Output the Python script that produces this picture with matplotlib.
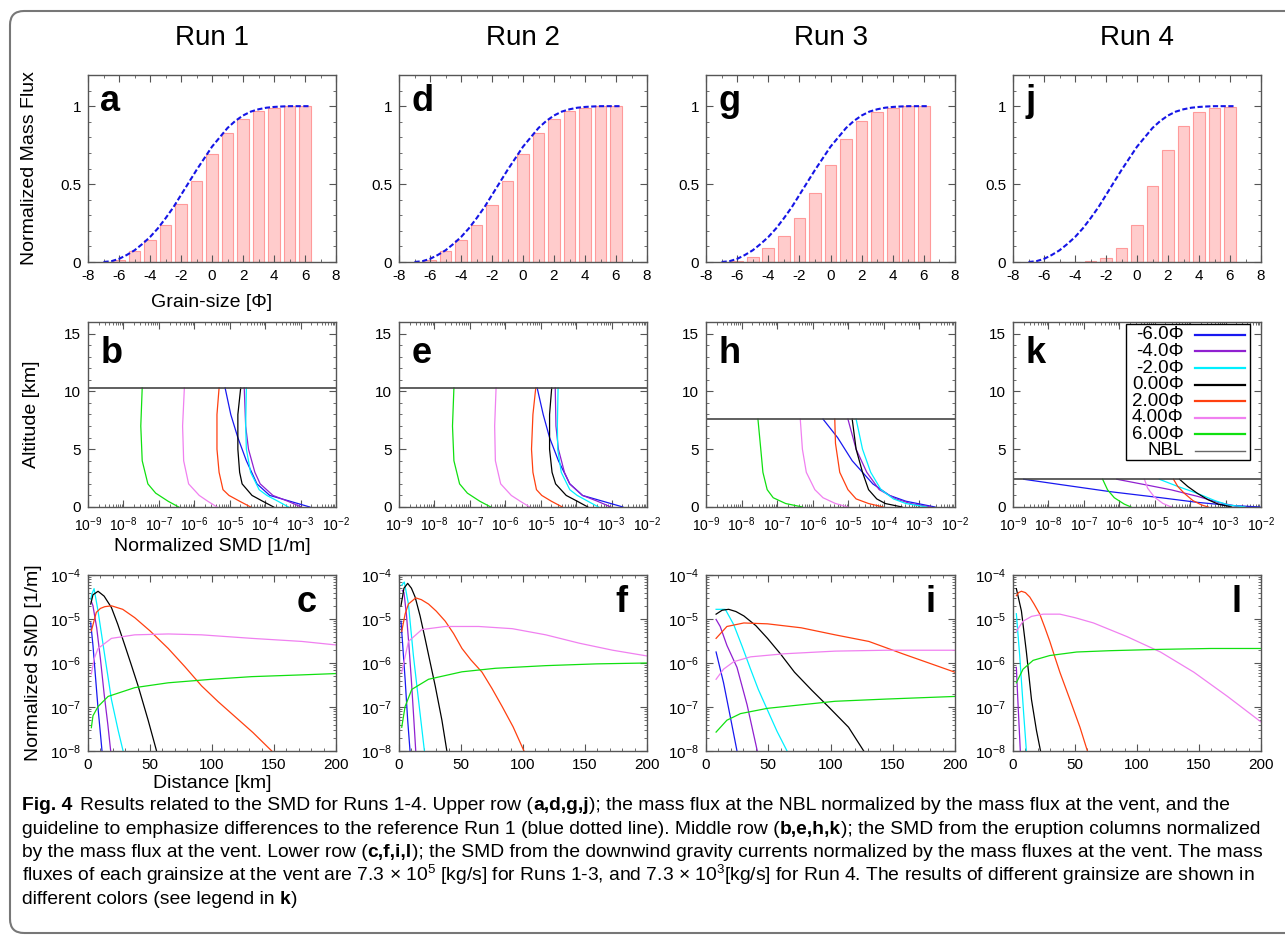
import numpy as np
import matplotlib
matplotlib.use('Agg')
import matplotlib.pyplot as plt
from matplotlib import font_manager
from matplotlib.patches import FancyBboxPatch, Rectangle
from matplotlib.transforms import IdentityTransform
from matplotlib.ticker import MultipleLocator, LogLocator, NullFormatter

plt.rcParams['font.family'] = ['Liberation Sans', 'DejaVu Sans']
plt.rcParams['axes.unicode_minus'] = False
plt.rcParams['mathtext.default'] = 'regular'

# ---------------- data ----------------
run_titles = ['Run 1', 'Run 2', 'Run 3', 'Run 4']
grain_labels = ['-6.0Φ', '-4.0Φ', '-2.0Φ', '0.00Φ', '2.00Φ', '4.00Φ', '6.00Φ']
grain_colors = ['#1818f0', '#9020d0', '#00f0ff', '#000000', '#ff4010', '#f080f0', '#10e010']
top_letters = ['a', 'd', 'g', 'j']
mid_letters = ['b', 'e', 'h', 'k']
bot_letters = ['c', 'f', 'i', 'l']

# upper row: normalized mass flux at NBL (cumulative, per grain size)
phi = [-6, -5, -4, -3, -2, -1, 0, 1, 2, 3, 4, 5, 6]
flux_run1 = [0.015, 0.07, 0.14, 0.24, 0.37, 0.52, 0.69, 0.83, 0.92, 0.97, 0.99, 1.0, 1.0]
flux_run2 = [0.015, 0.07, 0.14, 0.24, 0.365, 0.52, 0.69, 0.83, 0.92, 0.97, 0.99, 1.0, 1.0]
flux_run3 = [0.005, 0.03, 0.09, 0.17, 0.285, 0.44, 0.625, 0.79, 0.905, 0.96, 0.99, 1.0, 1.0]
flux_run4 = [0.0, 0.0, 0.0, 0.004, 0.026, 0.088, 0.24, 0.49, 0.72, 0.875, 0.96, 0.99, 0.996]

# blue guideline (reference Run 1)
guide_x = [-7, -6.5, -6, -5.5, -5, -4.5, -4, -3.5, -3, -2.5, -2, -1.5, -1, -0.5, 0,
           0.5, 1, 1.5, 2, 2.5, 3, 3.5, 4, 4.5, 5, 5.5, 6, 6.3]
guide_y = [0, 0.005, 0.02, 0.045, 0.075, 0.115, 0.16, 0.215, 0.28, 0.35, 0.43, 0.51, 0.59,
           0.665, 0.74, 0.80, 0.86, 0.905, 0.94, 0.965, 0.98, 0.99, 0.995, 0.998, 1.0, 1.0, 1.0, 1.0]

# middle row: NBL heights [km]
nbl_height = [10.3, 10.3, 7.6, 2.4]

# middle row profiles: (altitude km, log10 SMD) per grain size, -6 phi .. 6 phi
prof_b = [
    ([10.3, 8, 6, 4, 2, 1, 0.5, 0], [-5.13, -4.97, -4.77, -4.53, -4.23, -3.87, -3.30, -2.74]),
    ([10.3, 7, 5, 3, 2, 1, 0.5, 0], [-4.59, -4.55, -4.47, -4.29, -4.14, -3.78, -3.36, -2.98]),
    ([10.3, 7, 5, 3, 1.5, 1, 0.5, 0], [-4.53, -4.55, -4.53, -4.41, -4.17, -3.95, -3.64, -3.34]),
    ([10.3, 8, 5, 3, 2, 1, 0.5, 0], [-4.69, -4.77, -4.77, -4.72, -4.65, -4.37, -4.07, -3.76]),
    ([10.3, 8, 5, 3, 1.5, 1, 0.5, 0], [-5.30, -5.36, -5.36, -5.30, -5.19, -5.02, -4.72, -4.41]),
    ([10.3, 7, 4, 2, 1, 0.5, 0], [-6.28, -6.33, -6.30, -6.16, -5.86, -5.62, -5.36]),
    ([10.3, 7, 4, 2, 1.2, 0.5, 0], [-7.47, -7.51, -7.47, -7.31, -7.09, -6.74, -6.44]),
]
prof_e = [
    ([10.3, 8, 6, 4, 2, 1, 0.5, 0], [-5.10, -4.93, -4.75, -4.50, -4.18, -3.82, -3.25, -2.68]),
    ([10.3, 7, 5, 3, 2, 1, 0.5, 0], [-4.59, -4.57, -4.50, -4.33, -4.18, -3.82, -3.40, -3.02]),
    ([10.3, 7, 5, 3, 1.5, 1, 0.5, 0], [-4.51, -4.53, -4.52, -4.42, -4.18, -3.97, -3.67, -3.37]),
    ([10.3, 8, 5, 3, 2, 1, 0.5, 0], [-4.69, -4.75, -4.75, -4.68, -4.58, -4.28, -3.97, -3.67]),
    ([10.3, 8, 5, 3, 1.5, 1, 0.5, 0], [-5.14, -5.22, -5.26, -5.22, -5.12, -4.97, -4.70, -4.39]),
    ([10.3, 7, 4, 2, 1, 0.5, 0], [-6.26, -6.30, -6.28, -6.13, -5.83, -5.58, -5.31]),
    ([10.3, 7, 4, 2, 1.2, 0.5, 0], [-7.45, -7.49, -7.45, -7.29, -7.07, -6.72, -6.41]),
]
prof_h = [
    ([7.6, 6, 4, 2, 1, 0.5, 0], [-5.71, -5.30, -4.89, -4.31, -3.84, -3.38, -2.56]),
    ([7.6, 5, 3, 1.5, 0.7, 0.3, 0], [-5.01, -4.78, -4.48, -4.13, -3.66, -3.25, -2.68]),
    ([7.6, 5, 3, 1.5, 0.7, 0.3, 0], [-4.78, -4.60, -4.37, -4.08, -3.73, -3.38, -2.79]),
    ([7.6, 5, 3, 1.5, 0.7, 0.3, 0], [-4.89, -4.78, -4.60, -4.43, -4.20, -3.96, -3.49]),
    ([7.6, 5.5, 3, 1.5, 0.7, 0.3, 0], [-5.38, -5.36, -5.24, -5.01, -4.78, -4.43, -4.02]),
    ([7.6, 5, 3, 1.5, 0.8, 0.3, 0], [-6.35, -6.29, -6.18, -5.94, -5.71, -5.36, -5.01]),
    ([7.6, 5, 3, 1.5, 0.8, 0.3, 0], [-7.54, -7.46, -7.40, -7.28, -7.11, -6.76, -6.29]),
]
prof_k = [
    ([2.4, 1.94, 1.32, 0.8, 0.4, 0.15, 0], [-8.70, -7.66, -6.24, -4.82, -3.79, -2.93, -2.03]),
    ([2.4, 1.94, 1.48, 0.92, 0.4, 0.03], [-6.07, -5.29, -4.53, -3.79, -3.21, -2.64]),
    ([2.4, 1.78, 1.17, 0.55, 0.18, 0], [-4.87, -4.35, -3.79, -3.30, -2.93, -2.45]),
    ([2.4, 1.78, 1.17, 0.62, 0.25, 0], [-4.30, -4.07, -3.79, -3.49, -3.21, -2.83]),
    ([2.4, 1.78, 1.17, 0.55, 0.18, 0], [-4.47, -4.35, -4.16, -3.92, -3.68, -3.49]),
    ([2.4, 1.63, 0.86, 0.31, 0], [-5.29, -5.20, -5.01, -4.77, -4.53]),
    ([2.4, 1.48, 0.8, 0.25, 0], [-6.47, -6.33, -6.14, -5.86, -5.67]),
]

# lower row: (distance km, log10 SMD) per grain size, -6 phi .. 6 phi (None = not shown)
dist_c = [
    ([2.2, 4, 6, 8, 10, 11.3], [-5.09, -5.6, -6.3, -7.0, -7.6, -8.0]),
    ([2.7, 4, 7, 10, 13, 16, 18.3], [-4.6, -4.7, -5.2, -5.9, -6.7, -7.4, -8.0]),
    ([2.2, 3.2, 4.9, 8.1, 13.5, 18.9, 24.3, 28.3], [-4.55, -4.43, -4.31, -4.82, -5.83, -6.83, -7.53, -8.0]),
    ([2.2, 4, 8.1, 13, 18.9, 24, 29.6, 35, 40.4, 48.5, 55.3],
     [-4.66, -4.45, -4.37, -4.48, -4.74, -5.12, -5.59, -6.05, -6.52, -7.30, -8.0]),
    ([2.7, 6.7, 10, 13.5, 18.9, 28, 37.7, 50, 64.7, 78, 91.6, 105, 118.6, 133, 148.2],
     [-5.27, -4.85, -4.76, -4.72, -4.70, -4.78, -4.97, -5.27, -5.67, -6.08, -6.52, -6.88, -7.22, -7.58, -8.0]),
    ([2.7, 5, 8.1, 18.9, 37.7, 64.7, 91.6, 132, 172.5, 200], [-6.25, -5.9, -5.67, -5.44, -5.36, -5.34, -5.36, -5.44, -5.51, -5.59]),
    ([2.7, 4, 8.1, 16.2, 37.7, 64.7, 99.8, 132, 172.5, 200], [-7.47, -7.2, -6.99, -6.76, -6.56, -6.45, -6.37, -6.31, -6.27, -6.24]),
]
dist_f = [
    ([1.6, 3, 5, 7, 8.9], [-5.05, -5.6, -6.4, -7.3, -8.0]),
    ([2.7, 4, 6, 8, 10, 12, 13.5], [-4.35, -4.4, -4.9, -5.6, -6.4, -7.3, -8.0]),
    ([2.2, 4.3, 7.6, 11.6, 17, 20.5], [-4.23, -4.16, -4.66, -5.83, -7.15, -8.0]),
    ([1.6, 4, 7, 10, 13, 17, 21, 25, 29.2, 34.6, 38.6],
     [-4.70, -4.3, -4.19, -4.3, -4.5, -4.93, -5.44, -5.97, -6.52, -7.30, -8.0]),
    ([2.2, 5, 7.6, 13.5, 18, 23.8, 30, 37.3, 44, 50.8, 58, 67, 75, 83.2, 92, 100.8],
     [-5.28, -4.88, -4.66, -4.52, -4.56, -4.66, -4.82, -5.05, -5.33, -5.67, -5.93, -6.21, -6.58, -6.99, -7.45, -8.0]),
    ([2.2, 7.6, 18.4, 37.3, 64.3, 91.4, 118.4, 145.4, 172.4, 200], [-6.21, -5.51, -5.24, -5.17, -5.17, -5.22, -5.36, -5.55, -5.71, -5.84]),
    ([2.2, 4.9, 10.3, 23.8, 50.8, 77.8, 118.4, 159, 200], [-7.46, -6.99, -6.60, -6.37, -6.20, -6.12, -6.06, -6.02, -6.0]),
]
dist_i = [
    ([8.1, 14.1, 19.5, 24.9], [-5.75, -6.45, -7.22, -8.0]),
    ([8.1, 11.4, 16.8, 24.9, 33, 41.2], [-5.01, -5.17, -5.6, -6.1, -6.95, -8.0]),
    ([8.1, 15.5, 22.3, 29, 35.8, 42, 49.4, 57, 65.1], [-4.78, -4.78, -5.13, -5.62, -6.14, -6.6, -7.07, -7.55, -8.0]),
    ([8.1, 13, 18.2, 24, 30.4, 40, 49.4, 60, 71.1, 85, 98.2, 114.5, 126.7],
     [-4.89, -4.80, -4.78, -4.83, -4.93, -5.15, -5.44, -5.80, -6.21, -6.62, -6.99, -7.46, -8.0]),
    ([8.1, 16.8, 30.4, 49.4, 76.5, 103.7, 130.8, 157.9, 185, 200], [-5.44, -5.17, -5.09, -5.11, -5.20, -5.36, -5.51, -5.79, -6.06, -6.21]),
    ([8.1, 14.1, 22.3, 35.8, 63, 103.7, 144.4, 200], [-6.37, -6.14, -5.97, -5.86, -5.79, -5.73, -5.71, -5.71]),
    ([8.1, 16.8, 27.7, 49.4, 76.5, 103.7, 144.4, 200], [-7.57, -7.30, -7.15, -7.03, -6.95, -6.87, -6.82, -6.76]),
]
dist_l = [
    None,
    ([2.7, 4, 5.9], [-6.10, -6.9, -8.0]),
    ([2.7, 5.4, 8.6, 10.8], [-4.88, -5.83, -7.15, -8.0]),
    ([2.7, 6.8, 10.8, 14.9, 18.9, 22.2], [-4.31, -4.82, -5.75, -6.83, -7.53, -8.0]),
    ([2.7, 4.5, 6.8, 10, 13.5, 17, 21.6, 25.5, 29.7, 33.7, 37.8, 45.9, 54, 60],
     [-4.47, -4.40, -4.37, -4.40, -4.50, -4.66, -4.89, -5.18, -5.51, -5.86, -6.21, -6.83, -7.46, -8.0]),
    ([2.7, 8.1, 15, 24.3, 37.8, 50, 64.9, 91.9, 118.9, 145.9, 173, 200],
     [-5.28, -5.05, -4.94, -4.89, -4.89, -4.97, -5.09, -5.40, -5.75, -6.21, -6.76, -7.34]),
    ([2.7, 8.1, 16.2, 29.7, 51.4, 78.4, 118.9, 159.5, 200], [-6.45, -6.14, -5.94, -5.83, -5.75, -5.72, -5.69, -5.67, -5.67]),
]

fluxes = [flux_run1, flux_run2, flux_run3, flux_run4]
profiles = [prof_b, prof_e, prof_h, prof_k]
distals = [dist_c, dist_f, dist_i, dist_l]

# ---------------- layout (pixels) ----------------
W, H = 1285, 938
cols = [(88, 336), (399, 647), (706, 955), (1013, 1261)]
row_top = (75, 262)
row_mid = (322, 507)
row_bot = (575, 751)

fig = plt.figure(figsize=(W / 100, H / 100), dpi=100)


def px_axes(c, r):
    x0, x1 = c
    y0, y1 = r
    return fig.add_axes([x0 / W, 1 - y1 / H, (x1 - x0) / W, (y1 - y0) / H])


def style(ax, size=11):
    ax.tick_params(which='both', direction='in', top=True, right=True,
                   color='#555555', labelsize=size, pad=5)
    ax.tick_params(which='major', length=5, width=0.8)
    ax.tick_params(which='minor', length=2.5, width=0.6)
    for s in ax.spines.values():
        s.set_color('#555555')
        s.set_linewidth(1.0)


# frame
frame = FancyBboxPatch((10, H - 933), 1300, 922, boxstyle='round,pad=0,rounding_size=14',
                       fc='none', ec='#777777', lw=1.5, transform=IdentityTransform())
fig.patches.append(frame)

for j in range(4):
    cx = (cols[j][0] + cols[j][1]) / 2
    fig.text(cx / W, 1 - 38 / H, run_titles[j], ha='center', va='center', fontsize=20)

    # --- upper row ---
    ax = px_axes(cols[j], row_top)
    ax.bar(phi, fluxes[j], width=0.75, color='#ffcccc', edgecolor='#ff9a9a', lw=0.8)
    ax.plot(guide_x, guide_y, color='#1515e6', ls=(0, (2.5, 1.2)), lw=1.5)
    ax.set_xlim(-8, 8)
    ax.set_ylim(0, 1.2)
    ax.set_xticks(range(-8, 9, 2))
    ax.xaxis.set_minor_locator(MultipleLocator(1))
    ax.set_yticks([0, 0.5, 1])
    ax.set_yticklabels(['0', '0.5', '1'])
    ax.yaxis.set_minor_locator(MultipleLocator(0.1))
    style(ax)
    ax.text(0.05, 0.81, top_letters[j], transform=ax.transAxes, fontsize=26,
            fontweight='bold', ha='left', va='baseline')
    if j == 0:
        ax.set_ylabel('Normalized Mass Flux', fontsize=14)
        ax.yaxis.set_label_coords(-0.2, 0.5)
        ax.set_xlabel('Grain-size [Φ]', fontsize=14)
        ax.xaxis.set_label_coords(0.5, -0.17)

    # --- middle row ---
    ax = px_axes(cols[j], row_mid)
    for (z, s), col in zip(profiles[j], grain_colors):
        ax.plot(10 ** np.array(s), z, color=col, lw=0.9)
    ax.axhline(nbl_height[j], color='#444444', lw=1.2)
    ax.set_xscale('log')
    ax.set_xlim(1e-9, 1e-2)
    ax.set_ylim(0, 16)
    ax.xaxis.set_major_locator(LogLocator(base=10, numticks=10))
    ax.xaxis.set_minor_locator(LogLocator(base=10, subs=np.arange(2, 10), numticks=100))
    ax.xaxis.set_minor_formatter(NullFormatter())
    ax.set_yticks([0, 5, 10, 15])
    ax.yaxis.set_minor_locator(MultipleLocator(1))
    style(ax)
    ax.tick_params(axis='x', labelsize=10, pad=6)
    ax.text(0.05, 0.78, mid_letters[j], transform=ax.transAxes, fontsize=26,
            fontweight='bold', ha='left', va='baseline')
    if j == 0:
        ax.set_ylabel('Altitude [km]', fontsize=14)
        ax.yaxis.set_label_coords(-0.195, 0.5)
        ax.set_xlabel('Normalized SMD [1/m]', fontsize=14)
        ax.xaxis.set_label_coords(0.5, -0.165)
    if j == 3:
        # legend (drawn by hand so labels are right-aligned like gnuplot)
        ax.add_patch(Rectangle((0.457, 0.254), 0.498, 0.735, transform=ax.transAxes,
                               fc='white', ec='black', lw=1.0, zorder=5))
        names = grain_labels + ['NBL']
        colors = grain_colors + ['#666666']
        for n, (lab, col) in enumerate(zip(names, colors)):
            yy = 0.930 - n * 0.0894
            ax.text(0.688, yy, lab, transform=ax.transAxes, ha='right', va='center',
                    fontsize=13.5, zorder=6)
            ax.plot([0.733, 0.935], [yy, yy], transform=ax.transAxes, color=col,
                    lw=1.6 if n < 7 else 1.0, zorder=6)

    # --- lower row ---
    ax = px_axes(cols[j], row_bot)
    for entry, col in zip(distals[j], grain_colors):
        if entry is None:
            continue
        d, s = entry
        ax.plot(d, 10 ** np.array(s), color=col, lw=0.9)
    ax.set_yscale('log')
    ax.set_xlim(0, 200)
    ax.set_ylim(1e-8, 1e-4)
    ax.set_xticks(range(0, 201, 50))
    ax.xaxis.set_minor_locator(MultipleLocator(10))
    ax.yaxis.set_major_locator(LogLocator(base=10, numticks=10))
    ax.yaxis.set_minor_locator(LogLocator(base=10, subs=np.arange(2, 10), numticks=100))
    ax.yaxis.set_minor_formatter(NullFormatter())
    style(ax)
    ax.text(0.92, 0.79, bot_letters[j], transform=ax.transAxes, fontsize=26,
            fontweight='bold', ha='right', va='baseline')
    if j == 0:
        ax.set_ylabel('Normalized SMD [1/m]', fontsize=14)
        ax.yaxis.set_label_coords(-0.185, 0.5)
        ax.set_xlabel('Distance [km]', fontsize=14)
        ax.xaxis.set_label_coords(0.5, -0.135)

# ---------------- caption ----------------
cap_font = 'Liberation Sans'
try:
    font_manager.findfont(font_manager.FontProperties(family='Liberation Sans Narrow'),
                          fallback_to_default=False)
    cap_font = 'Liberation Sans Narrow'
except Exception:
    pass

caption = [
    [('Fig. 4', True), ('Results related to the SMD for Runs 1-4. Upper row (', False),
     ('a,d,g,j', True), ('); the mass flux at the NBL normalized by the mass flux at the vent, and the', False)],
    [('guideline to emphasize differences to the reference Run 1 (blue dotted line). Middle row (', False),
     ('b,e,h,k', True), ('); the SMD from the eruption columns normalized', False)],
    [('by the mass flux at the vent. Lower row (', False), ('c,f,i,l', True),
     ('); the SMD from the downwind gravity currents normalized by the mass fluxes at the vent. The mass', False)],
    [('fluxes of each grainsize at the vent are 7.3 × 10$^5$ [kg/s] for Runs 1-3, and 7.3 × 10$^3$[kg/s] for Run 4. The results of different grainsize are shown in', False)],
    [('different colors (see legend in ', False), ('k', True), (')', False)],
]
baselines = [810, 834, 857, 881, 904]

renderer = fig.canvas.get_renderer()
probe = fig.text(0, 0, ''.join(p for p, b in caption[2]), fontsize=12, family=cap_font)
w = probe.get_window_extent(renderer).width
probe.remove()
cap_size = 12 * 1234 / w

for line, yb in zip(caption, baselines):
    x = 22
    for txt, bold in line:
        t = fig.text(x / W, 1 - yb / H, txt, fontsize=cap_size, family=cap_font,
                     fontweight='bold' if bold else 'normal', va='baseline', ha='left')
        x += t.get_window_extent(renderer).width
        if txt == 'Fig. 4':
            x += 8

fig.savefig('out.png', dpi=100)
